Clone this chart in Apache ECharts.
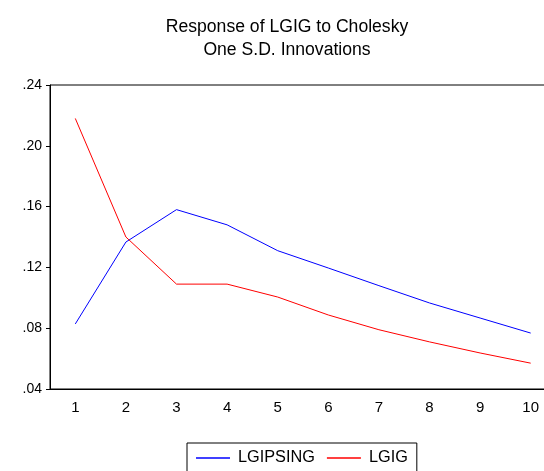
<!DOCTYPE html>
<html>
<head>
<meta charset="utf-8">
<script src="https://cdn.jsdelivr.net/npm/echarts@6/dist/echarts.min.js"></script>
<style>
  html, body { margin: 0; padding: 0; background: #fff; }
  #chart { width: 544px; height: 471px; }
</style>
</head>
<body>
<div id="chart"></div>
<script>
const periods = ["1", "2", "3", "4", "5", "6", "7", "8", "9", "10"];
const lgipsing = [0.0828, 0.1367, 0.158, 0.148, 0.131, 0.1196, 0.108, 0.0966, 0.0867, 0.0768];
const lgig = [0.218, 0.14, 0.109, 0.109, 0.1005, 0.0887, 0.079, 0.071, 0.0637, 0.057];

const font = "Liberation Sans, Arial, sans-serif";
const chart = echarts.init(document.getElementById("chart"));

chart.setOption({
  animation: false,
  backgroundColor: "#fff",
  title: {
    text: "Response of LGIG to Cholesky\nOne S.D. Innovations",
    left: 282,
    textAlign: "center",
    top: 11,
    textStyle: { fontFamily: font, fontSize: 17.6, fontWeight: "normal", color: "#000", lineHeight: 23 },
  },
  legend: {
    left: 187,
    top: 443,
    icon: "rect",
    itemWidth: 34,
    itemHeight: 1.5,
    itemGap: 12,
    padding: [7, 9, 7, 9],
    borderColor: "#000",
    borderWidth: 1,
    textStyle: { fontFamily: font, fontSize: 16.3, color: "#000", padding: [0, 0, 0, 3] },
    data: ["LGIPSING", "LGIG"],
  },
  grid: {
    left: 50,
    top: 85,
    width: 506,
    height: 304,
    outerBoundsMode: "none",
    containLabel: false,
    show: true,
    borderColor: "#000",
    borderWidth: 1,
  },
  xAxis: {
    type: "category",
    data: periods,
    boundaryGap: true,
    axisLine: { lineStyle: { color: "#000", width: 1 } },
    axisTick: { length: 5, lineStyle: { color: "#000" } },
    axisLabel: { margin: 11, fontFamily: font, fontSize: 15, color: "#000" },
    splitLine: { show: false },
  },
  yAxis: {
    type: "value",
    min: 0.04,
    max: 0.24,
    interval: 0.04,
    axisLine: { show: true, lineStyle: { color: "#000", width: 1 } },
    axisTick: { show: true, length: 4, lineStyle: { color: "#000" } },
    axisLabel: {
      margin: 8,
      fontFamily: font,
      fontSize: 14,
      color: "#000",
      formatter: (v) => v.toFixed(2).replace(/^0/, ""),
    },
    splitLine: { show: false },
  },
  series: [
    { name: "LGIPSING", type: "line", data: lgipsing, color: "#0000ff" },
    { name: "LGIG", type: "line", data: lgig, color: "#ff0000" },
  ].map((s) => ({
    ...s,
    symbol: "none",
    lineStyle: { width: 1, color: s.color },
    itemStyle: { color: s.color },
  })),
});
</script>
</body>
</html>
